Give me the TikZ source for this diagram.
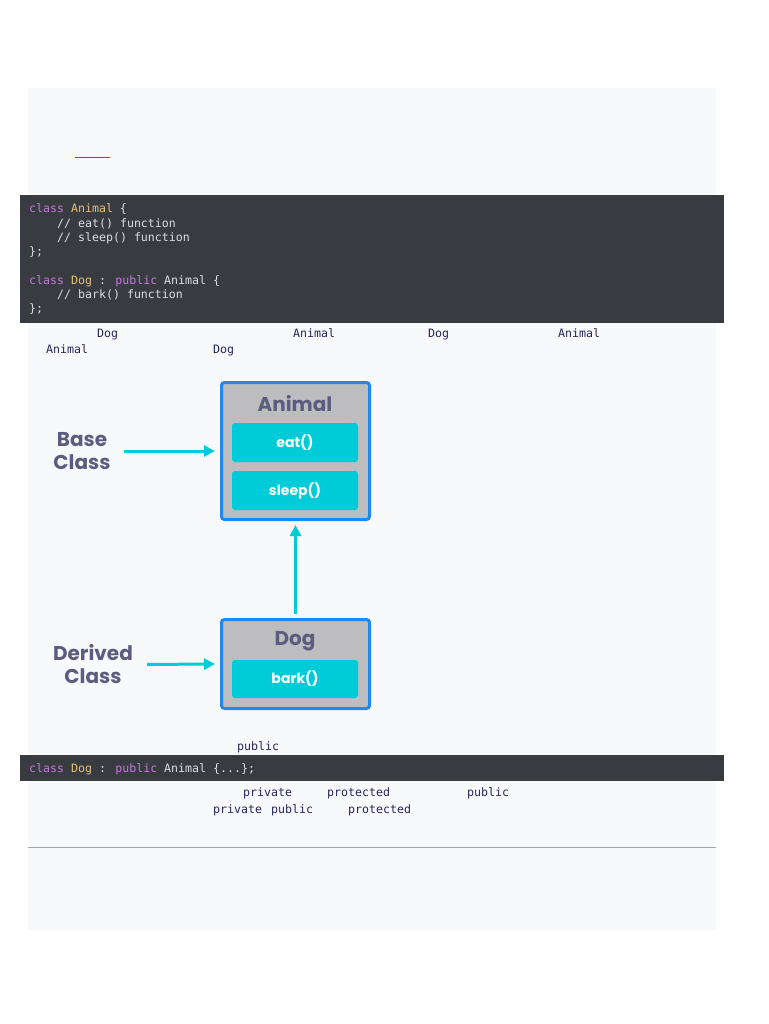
\documentclass[tikz,border=0pt]{standalone}
\usepackage{fontspec}
\usepackage{xcolor}
\usepackage{tikz}
\usetikzlibrary{arrows.meta}
\newfontfamily\codefont{DejaVu Sans Mono}
\newfontfamily\popfont{Poppins}
\definecolor{panel}{RGB}{248, 249, 251}
\definecolor{codebg}{RGB}{56, 59, 64}
\definecolor{kwpurple}{RGB}{198, 120, 221}
\definecolor{clsyellow}{RGB}{229, 192, 123}
\definecolor{codetxt}{RGB}{220, 222, 226}
\definecolor{navy}{RGB}{37, 38, 94}
\definecolor{boxgray}{RGB}{189, 189, 192}
\definecolor{boxblue}{RGB}{33, 136, 242}
\definecolor{cyanbox}{RGB}{0, 204, 217}
\definecolor{labelgray}{RGB}{92, 92, 128}
\definecolor{rulegray}{RGB}{160, 164, 171}
\definecolor{linkblue}{RGB}{47, 91, 234}
\newcommand{\kw}[1]{\textcolor{kwpurple}{#1}}
\newcommand{\cn}[1]{\textcolor{clsyellow}{#1}}

\begin{document}
\begin{tikzpicture}[x=1pt, y=-1pt,
    code/.style={anchor=base west, inner sep=0pt, font=\codefont\fontsize{11.6}{13}\selectfont, text=codetxt},
    inl/.style={anchor=base west, inner sep=0pt, font=\codefont\fontsize{11.6}{13}\selectfont, text=navy},
    classbox/.style={draw=boxblue, line width=3pt, fill=boxgray, rounded corners=3pt, minimum width=148pt},
    method/.style={fill=cyanbox, rounded corners=3pt, minimum width=126pt, text=white, font=\popfont\bfseries\fontsize{14}{16}\selectfont},
    title/.style={text=labelgray, font=\popfont\bfseries\fontsize{20}{22}\selectfont},
    sidelbl/.style={text=labelgray, align=center, inner sep=0pt, font=\popfont\bfseries\fontsize{20}{23}\selectfont},
    arrow/.style={cyanbox, line width=3pt, -{Triangle[length=11pt, width=11pt]}}]
\useasboundingbox (0,0) rectangle (768,1024);
\fill[white] (0,0) rectangle (768,1024);

% Page panel
\fill[panel] (28,88) rectangle (716,930);
\draw[linkblue, line width=1pt] (75,158) -- (110,158);

% Code block
\fill[codebg] (20,195) rectangle (724,323);
\node[code] (c1) at (29,213) {\kw{class} \cn{Animal} \{};
\node[code] (c2) at (57,227) {// eat() function};
\node[code] (c3) at (57,241) {// sleep() function};
\node[code] (c4) at (29,255) {\};};
\node[code] (c5) at (29,284) {\kw{class} \cn{Dog} : \kw{public} Animal \{};
\node[code] (c6) at (57,298) {// bark() function};
\node[code] (c7) at (29,312) {\};};

% Inline words
\node[inl] (w1) at (97,337) {Dog};
\node[inl] (w2) at (293,337) {Animal};
\node[inl] (w3) at (428,337) {Dog};
\node[inl] (w4) at (558,337) {Animal};
\node[inl] (w5) at (46,353) {Animal};
\node[inl] (w6) at (213,353) {Dog};

% Base class
\node[classbox, minimum height=137pt] (animal) at (295.5,451) {};
\node[title] (animaltitle) at (295,404) {Animal};
\node[method, minimum height=39pt] (eat) at (295,442.5) {eat()};
\node[method, minimum height=39pt] (sleep) at (295,490.5) {sleep()};
\node[sidelbl] (baselbl) at (82,451) {Base\\Class};

% Derived class
\node[classbox, minimum height=89pt] (dog) at (295.5,664) {};
\node[title] (dogtitle) at (295,641) {Dog};
\node[method, minimum height=38pt] (bark) at (295,679) {bark()};
\node[sidelbl] (derivedlbl) at (93,664.5) {Derived\\Class};

% Arrows
\draw[arrow, shorten <=13pt, shorten >=5pt] (baselbl.east) -- (animal.west);
\draw[arrow, shorten <=14pt, shorten >=5pt] (derivedlbl.east) -- (dog.west);
\draw[arrow, shorten <=4pt, shorten >=4pt] (dog.north) -- (animal.south);

% Second code line
\node[inl] (w7) at (237,750) {public};
\fill[codebg] (20,755) rectangle (724,781);
\node[code] (c8) at (29,772) {\kw{class} \cn{Dog} : \kw{public} Animal \{...\};};
\node[inl] (w8) at (243,796) {private};
\node[inl] (w9) at (327,796) {protected};
\node[inl] (w10) at (467,796) {public};
\node[inl] (w11) at (213,813) {private};
\node[inl] (w12) at (271,813) {public};
\node[inl] (w13) at (348,813) {protected};

% Rule
\draw[rulegray, line width=1pt] (28,847) -- (716,847);
\end{tikzpicture}
\end{document}
